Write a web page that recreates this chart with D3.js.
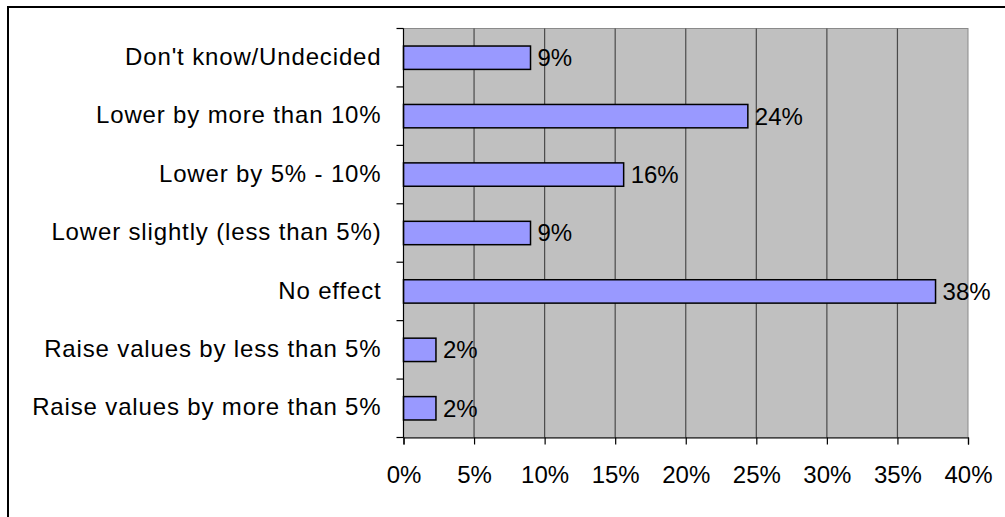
<!DOCTYPE html>
<html>
<head>
<meta charset="utf-8">
<script src="https://cdn.jsdelivr.net/npm/d3@7"></script>
<style>
  body { margin: 0; background: #fff; }
  svg { display: block; font-family: "Liberation Sans", Arial, sans-serif; }
</style>
</head>
<body>
<div id="chart"></div>
<script>
// categories, top to bottom
let categories = [
    "Don't know/Undecided",
    "Lower by more than 10%",
    "Lower by 5% - 10%",
    "Lower slightly (less than 5%)",
    "No effect",
    "Raise values by less than 5%",
    "Raise values by more than 5%"
]
// share of respondents (%)
let values = [9.0, 24.4, 15.6, 9.0, 37.7, 2.3, 2.3]
let xTicks = [0, 5, 10, 15, 20, 25, 30, 35, 40]

let width = 1005, height = 517
let margin = {top: 28.5, right: 37, bottom: 79.5, left: 403.5}
let w = width - margin.left - margin.right
let h = height - margin.top - margin.bottom

let svg = d3.select('#chart')
    .append('svg')
    .attr('width', width)
    .attr('height', height)

// outer frame (runs off the right and bottom of the picture)
svg.append('rect')
    .attr('x', 8).attr('y', 7)
    .attr('width', width + 20).attr('height', height + 20)
    .attr('fill', 'none')
    .attr('stroke', '#000')
    .attr('stroke-width', 2)

let g = svg.append('g')
    .attr('transform', "translate(" + margin.left + "," + margin.top + ")")

let x = d3.scaleLinear()
    .domain([0, 40])
    .range([0, w])

let y = d3.scaleBand()
    .domain(categories)
    .range([0, h])
    .paddingInner(0.6)
    .paddingOuter(0.3)

// plot background
g.append('rect')
    .attr('width', w).attr('height', h)
    .attr('fill', '#c0c0c0')
    .attr('stroke', '#8a8a8a')
    .attr('stroke-width', 1)

// vertical gridlines
g.selectAll('.grid')
    .data(xTicks.slice(1, -1))
    .enter()
    .append('line')
    .attr('x1', d => x(d)).attr('x2', d => x(d))
    .attr('y1', 0).attr('y2', h)
    .attr('stroke', '#4a4a4a')
    .attr('stroke-width', 1.2)

// bars
g.selectAll('.bar')
    .data(values)
    .enter()
    .append('rect')
    .attr('x', 0)
    .attr('y', (d, i) => y(categories[i]))
    .attr('width', d => x(d))
    .attr('height', y.bandwidth())
    .attr('fill', '#9999ff')
    .attr('stroke', '#000')
    .attr('stroke-width', 1.5)

// value labels
g.selectAll('.val')
    .data(values)
    .enter()
    .append('text')
    .attr('x', d => x(d) + 7)
    .attr('y', (d, i) => y(categories[i]) + y.bandwidth() / 2)
    .attr('dy', '0.35em')
    .style('font-size', '24px')
    .text(d => Math.round(d) + '%')

// left axis with ticks at band edges
let yEdges = d3.range(categories.length + 1).map(i => i * h / categories.length)
g.append('line')
    .attr('x1', 0).attr('x2', 0).attr('y1', 0).attr('y2', h)
    .attr('stroke', '#000').attr('stroke-width', 1.2)
g.selectAll('.ytick')
    .data(yEdges)
    .enter()
    .append('line')
    .attr('x1', -7).attr('x2', 0)
    .attr('y1', d => d).attr('y2', d => d)
    .attr('stroke', '#000').attr('stroke-width', 1.2)
g.selectAll('.ylab')
    .data(categories)
    .enter()
    .append('text')
    .attr('x', -22)
    .attr('y', d => y(d) + y.bandwidth() / 2)
    .attr('dy', '0.3em')
    .attr('text-anchor', 'end')
    .style('font-size', '24px')
    .style('letter-spacing', '0.85px')
    .text(d => d)

// bottom axis
let xAxis = d3.axisBottom(x)
    .tickValues(xTicks)
    .tickSize(7)
    .tickPadding(21)
    .tickFormat(d => d + '%')
let ax = g.append('g')
    .attr('transform', "translate(0," + h + ")")
    .call(xAxis)
ax.select('.domain').attr('stroke', '#000').attr('stroke-width', 1.2)
ax.selectAll('.tick line').attr('stroke', '#000').attr('stroke-width', 1.2)
ax.selectAll('text')
    .style('font-size', '24px')
    .style('font-family', '"Liberation Sans", Arial, sans-serif')
    .attr('fill', '#000')
</script>
</body>
</html>
